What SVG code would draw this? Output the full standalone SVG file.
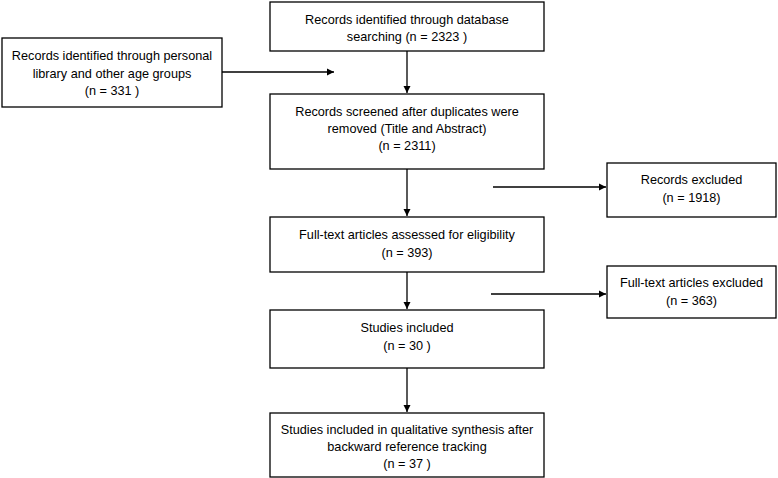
<svg xmlns="http://www.w3.org/2000/svg" width="778" height="478" viewBox="0 0 778 478">
<style>
.box{fill:#fff;stroke:#000;stroke-width:1.3}
text{font-family:"Liberation Sans",Arial,sans-serif;font-size:12.7px;fill:#000;text-anchor:middle}
.ln{stroke:#000;stroke-width:1.3;fill:none}
</style>
<defs>
<marker id="ah" markerWidth="8" markerHeight="8" refX="7" refY="4" orient="auto" markerUnits="userSpaceOnUse">
<path d="M0,0.5 L7,4 L0,7.5 Z" fill="#000"/>
</marker>
</defs>
<rect width="778" height="478" fill="#fff"/>
<g id="connectors">
<line class="ln" x1="407" y1="51" x2="407" y2="93" marker-end="url(#ah)"/>
<line class="ln" x1="222" y1="72" x2="334" y2="72" marker-end="url(#ah)"/>
<line class="ln" x1="407" y1="169" x2="407" y2="216" marker-end="url(#ah)"/>
<line class="ln" x1="493" y1="187" x2="606" y2="187" marker-end="url(#ah)"/>
<line class="ln" x1="407" y1="272" x2="407" y2="309" marker-end="url(#ah)"/>
<line class="ln" x1="491" y1="294" x2="606" y2="294" marker-end="url(#ah)"/>
<line class="ln" x1="407" y1="368" x2="407" y2="412" marker-end="url(#ah)"/>
</g>
<g id="n1">
<rect class="box" x="270" y="2" width="274" height="49"/>
<text x="407" y="24">Records identified through database</text>
<text x="407" y="41">searching (n = 2323 )</text>
</g>
<g id="n2">
<rect class="box" x="2" y="38" width="220" height="69"/>
<text x="112" y="60">Records identified through personal</text>
<text x="112" y="78">library and other age groups</text>
<text x="112" y="95">(n = 331 )</text>
</g>
<g id="n3">
<rect class="box" x="270" y="94" width="274" height="75"/>
<text x="407" y="116">Records screened after duplicates were</text>
<text x="407" y="133">removed (Title and Abstract)</text>
<text x="407" y="150">(n = 2311)</text>
</g>
<g id="n4">
<rect class="box" x="607" y="163" width="169" height="54"/>
<text x="691.5" y="184">Records excluded</text>
<text x="691.5" y="202">(n = 1918)</text>
</g>
<g id="n5">
<rect class="box" x="270" y="217" width="274" height="55"/>
<text x="407" y="239">Full-text articles assessed for eligibility</text>
<text x="407" y="257">(n = 393)</text>
</g>
<g id="n6">
<rect class="box" x="607" y="266" width="169" height="52"/>
<text x="691.5" y="287">Full-text articles excluded</text>
<text x="691.5" y="305">(n = 363)</text>
</g>
<g id="n7">
<rect class="box" x="270" y="310" width="274" height="58"/>
<text x="407" y="332">Studies included</text>
<text x="407" y="350">(n = 30 )</text>
</g>
<g id="n8">
<rect class="box" x="270" y="413" width="274" height="64"/>
<text x="407" y="434">Studies included in qualitative synthesis after</text>
<text x="407" y="451">backward reference tracking</text>
<text x="407" y="468">(n = 37 )</text>
</g>
</svg>
